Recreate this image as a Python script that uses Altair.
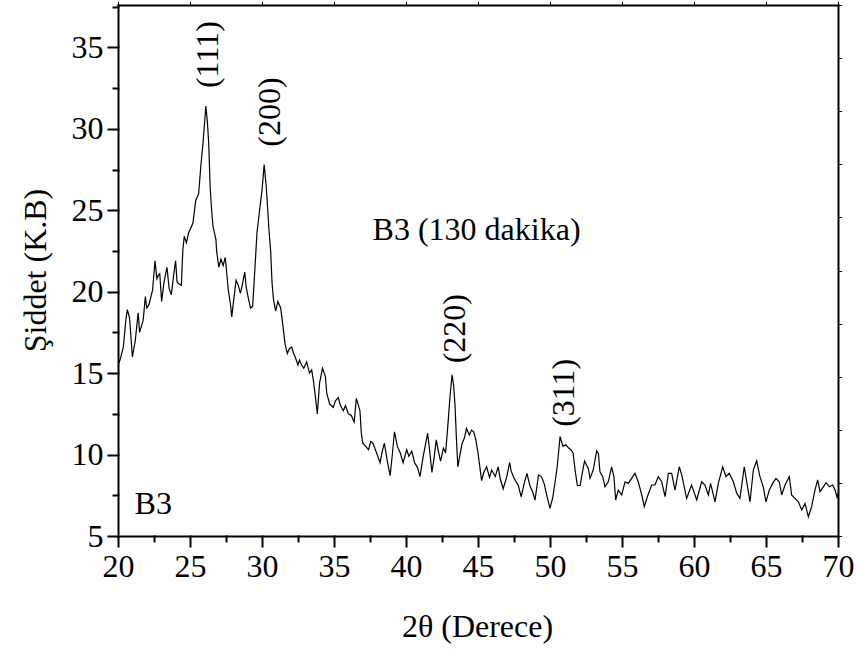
import altair as alt
import pandas as pd

# XRD pattern of sample B3 (130 min milling)
two_theta = [
    20.05, 20.14, 20.37, 20.55, 20.65, 20.8, 20.9, 21.0, 21.2, 21.4, 21.5, 21.75, 21.9, 22.0,
    22.15, 22.4, 22.57, 22.7, 22.8, 22.9, 23.03, 23.2, 23.4, 23.55, 23.7, 23.85, 24.0, 24.1,
    24.2, 24.4, 24.5, 24.6, 24.75, 24.9, 25.05, 25.2, 25.4, 25.6, 25.75, 25.9, 26.0, 26.1,
    26.2, 26.3, 26.4, 26.5, 26.6, 26.8, 26.85, 27.0, 27.15, 27.3, 27.45, 27.66, 27.8, 27.9,
    28.05, 28.2, 28.35, 28.5, 28.65, 28.8, 28.9, 29.05, 29.2, 29.35, 29.5, 29.65, 29.86, 30.0,
    30.15, 30.3, 30.5, 30.6, 30.7, 30.8, 30.95, 31.1, 31.3, 31.4, 31.6, 31.76, 31.9, 32.06,
    32.2, 32.3, 32.5, 32.6, 32.75, 32.9, 33.1, 33.3, 33.45, 33.56, 33.7, 33.84, 34.0, 34.2,
    34.4, 34.5, 34.7, 34.95, 35.1, 35.3, 35.45, 35.65, 35.8, 36.0, 36.2, 36.4, 36.55, 36.7,
    36.8, 36.9, 37.0, 37.2, 37.4, 37.55, 37.7, 37.96, 38.2, 38.35, 38.5, 38.7, 38.9, 39.05,
    39.2, 39.4, 39.6, 39.8, 40.05, 40.2, 40.4, 40.6, 40.8, 40.97, 41.2, 41.5, 41.65, 41.8,
    41.95, 42.1, 42.25, 42.4, 42.6, 42.75, 42.9, 43.05, 43.2, 43.3, 43.4, 43.5, 43.6, 43.75,
    43.9, 44.05, 44.2, 44.4, 44.55, 44.7, 44.85, 45.0, 45.25, 45.4, 45.6, 45.8, 45.95, 46.2,
    46.4, 46.55, 46.75, 47.0, 47.2, 47.3, 47.45, 47.6, 47.8, 48.0, 48.2, 48.4, 48.6, 48.8,
    48.96, 49.2, 49.4, 49.6, 49.8, 50.0, 50.2, 50.35, 50.5, 50.7, 50.9, 51.1, 51.3, 51.45,
    51.6, 51.75, 51.9, 52.1, 52.25, 52.4, 52.66, 52.78, 53.0, 53.24, 53.36, 53.47, 53.66, 53.82,
    54.05, 54.28, 54.44, 54.56, 54.74, 54.98, 55.21, 55.44, 55.67, 55.9, 56.13, 56.37, 56.55, 56.76,
    57.06, 57.29, 57.52, 57.76, 57.99, 58.22, 58.45, 58.68, 58.98, 59.15, 59.49, 59.83, 60.19, 60.53,
    60.76, 61.0, 61.15, 61.46, 61.69, 61.99, 62.22, 62.45, 62.73, 62.97, 63.19, 63.49, 63.66, 63.89,
    64.12, 64.35, 64.58, 64.81, 65.0, 65.23, 65.46, 65.69, 65.92, 66.09, 66.32, 66.62, 66.78, 67.01,
    67.25, 67.48, 67.71, 67.94, 68.17, 68.4, 68.59, 68.75, 68.98, 69.17, 69.4, 69.63, 69.8, 69.95,
    70.0,
]
intensity = [
    15.6, 15.8, 16.6, 18.3, 18.9, 18.4, 17.2, 16.0, 17.0, 18.7, 17.5, 18.25, 19.7, 19.0,
    19.2, 20.1, 21.9, 20.8, 21.0, 21.1, 19.4, 20.6, 21.5, 20.2, 19.8, 20.9, 21.9, 20.6,
    20.5, 20.4, 22.5, 23.4, 23.0, 23.6, 23.9, 24.2, 25.6, 26.0, 27.7, 29.1, 30.2, 31.4,
    30.5, 29.1, 26.4, 25.0, 24.0, 23.2, 22.5, 21.5, 22.0, 21.6, 22.1, 20.1, 19.3, 18.45,
    19.6, 20.7, 20.4, 19.9, 20.5, 21.2, 20.3, 19.6, 19.0, 19.1, 21.3, 23.6, 25.2, 26.2,
    27.8, 26.4, 23.6, 22.5, 20.5, 19.5, 18.8, 19.4, 19.0, 18.3, 16.8, 16.2, 16.5, 16.6,
    16.2, 16.0, 15.5, 15.8, 15.5, 15.3, 15.7, 15.0, 15.2, 14.6, 13.6, 12.5, 14.4, 15.3,
    14.8, 13.75, 13.1, 12.9, 13.3, 13.5, 13.0, 12.7, 13.0, 12.5, 12.4, 12.0, 13.45, 13.0,
    12.7, 11.3, 10.7, 10.5, 10.3, 10.8, 10.7, 10.1, 9.5, 10.2, 10.7, 9.6, 8.7, 10.0,
    11.4, 10.5, 10.1, 9.5, 10.3, 9.9, 10.2, 9.5, 9.2, 8.65, 9.9, 11.3, 10.2, 8.9,
    9.8, 10.9, 10.2, 9.6, 10.4, 10.1, 11.7, 13.5, 14.9, 14.3, 13.1, 11.0, 9.25, 10.0,
    10.7, 11.0, 11.6, 11.2, 11.5, 11.4, 10.9, 10.1, 8.4, 8.9, 9.25, 8.6, 9.05, 8.65,
    9.25, 8.5, 7.9, 8.65, 9.5, 9.0, 8.65, 8.4, 8.1, 7.4, 8.2, 8.85, 8.1, 7.7,
    7.2, 8.75, 8.65, 8.2, 7.4, 6.7, 7.4, 8.3, 9.25, 11.1, 10.5, 10.6, 10.4, 10.3,
    10.1, 9.0, 8.1, 8.1, 8.9, 9.6, 9.15, 8.54, 9.05, 10.23, 10.07, 8.94, 8.64, 8.02,
    8.33, 9.25, 8.64, 7.21, 7.82, 7.52, 8.33, 8.23, 8.54, 8.85, 8.33, 7.52, 6.8, 7.41,
    8.13, 8.13, 8.64, 8.33, 7.41, 8.85, 8.85, 7.82, 9.25, 8.74, 7.31, 8.13, 7.21, 8.33,
    8.13, 7.52, 8.23, 7.1, 8.23, 9.25, 8.64, 8.85, 8.33, 7.62, 7.31, 9.25, 8.33, 7.1,
    9.05, 9.62, 8.64, 8.02, 7.1, 7.82, 8.23, 8.54, 8.33, 7.52, 8.13, 8.64, 7.52, 7.31,
    7.1, 6.6, 7.0, 6.18, 6.8, 7.82, 8.44, 7.72, 8.02, 8.27, 8.02, 8.13, 7.82, 7.31,
    7.6,
]

# Miller-index labels placed above each reflection
peak_labels = ["(111)", "(200)", "(220)", "(311)"]
peak_label_x = [26.25, 30.56, 43.4, 51.0]
peak_label_y = [32.5, 28.9, 15.6, 11.7]

# Free-standing captions (centred on their x position)
caption_text = ["B3 (130 dakika)", "B3"]
caption_x = [44.9, 22.45]
caption_y = [23.15, 6.35]

X_DOMAIN = [20, 70]
Y_DOMAIN = [5, 37.6]
FONT = "Liberation Serif, DejaVu Serif, serif"

x_major = list(range(20, 71, 5))
x_minor = [v + 2.5 for v in range(20, 70, 5)]
y_major = list(range(5, 36, 5))
y_minor = [v + 2.5 for v in range(5, 36, 5)]
y_right = [Y_DOMAIN[0] + k * (Y_DOMAIN[1] - Y_DOMAIN[0]) / 10 for k in range(11)]

pattern = pd.DataFrame({"x": two_theta, "y": intensity})
peaks = pd.DataFrame({"x": peak_label_x, "y": peak_label_y, "label": peak_labels})
captions = pd.DataFrame({"x": caption_x, "y": caption_y, "label": caption_text})

xs = alt.Scale(domain=X_DOMAIN, nice=False, zero=False)
ys = alt.Scale(domain=Y_DOMAIN, nice=False, zero=False)

# main trace with labelled bottom/left axes
line = alt.Chart(pattern).mark_line(color="black", strokeWidth=1.2).encode(
    x=alt.X("x:Q", scale=xs, axis=alt.Axis(
        orient="bottom", values=x_major, tickSize=10, labelPadding=5,
        title="2θ (Derece)", titleX=359, titleY=100, titleBaseline="alphabetic",
        titleAnchor="middle", titleAlign="center")),
    y=alt.Y("y:Q", scale=ys, axis=alt.Axis(
        orient="left", values=y_major, tickSize=10, labelPadding=5,
        title="Şiddet (K.B)", titleX=-73, titleY=265, titleAngle=-90,
        titleBaseline="alphabetic", titleAlign="center")),
)

# peak labels, carrying the minor ticks on bottom/left
peak_text = alt.Chart(peaks).mark_text(
    angle=270, align="left", baseline="middle", font=FONT, fontSize=32, color="black"
).encode(
    x=alt.X("x:Q", scale=xs, axis=alt.Axis(
        orient="bottom", values=x_minor, tickSize=5, labels=False, domain=False,
        title=None)),
    y=alt.Y("y:Q", scale=ys, axis=alt.Axis(
        orient="left", values=y_minor, tickSize=5, labels=False, domain=False,
        title=None)),
    text="label:N",
)

# captions, carrying the top/right frame axes
caption_layer = alt.Chart(captions).mark_text(
    align="center", baseline="alphabetic", font=FONT, fontSize=32, color="black"
).encode(
    x=alt.X("x:Q", scale=xs, axis=alt.Axis(
        orient="top", values=x_major, tickSize=3, tickWidth=1, labels=False,
        title=None)),
    y=alt.Y("y:Q", scale=ys, axis=alt.Axis(
        orient="right", values=y_right, tickSize=3, tickWidth=1, labels=False,
        title=None)),
    text="label:N",
)

chart = (
    alt.layer(line, peak_text, caption_layer)
    .resolve_axis(x="independent", y="independent")
    .properties(width=720, height=531,
                autosize=alt.AutoSizeParams(type="none"),
                padding={"left": 118, "top": 5, "right": 19, "bottom": 116},
                background="white")
    .configure_view(stroke=None)
    .configure_axis(grid=False, domainColor="black", domainWidth=2, tickColor="black",
                    tickWidth=2, labelColor="black", titleColor="black",
                    labelFont=FONT, titleFont=FONT, labelFontSize=32, titleFontSize=32,
                    titleFontWeight="normal", labelFlush=False, labelOverlap=False,
                    tickCap="square", domainCap="square")
    .configure_text(font=FONT)
)

chart.save("out.html", embed_options={"renderer": "svg", "actions": False})
